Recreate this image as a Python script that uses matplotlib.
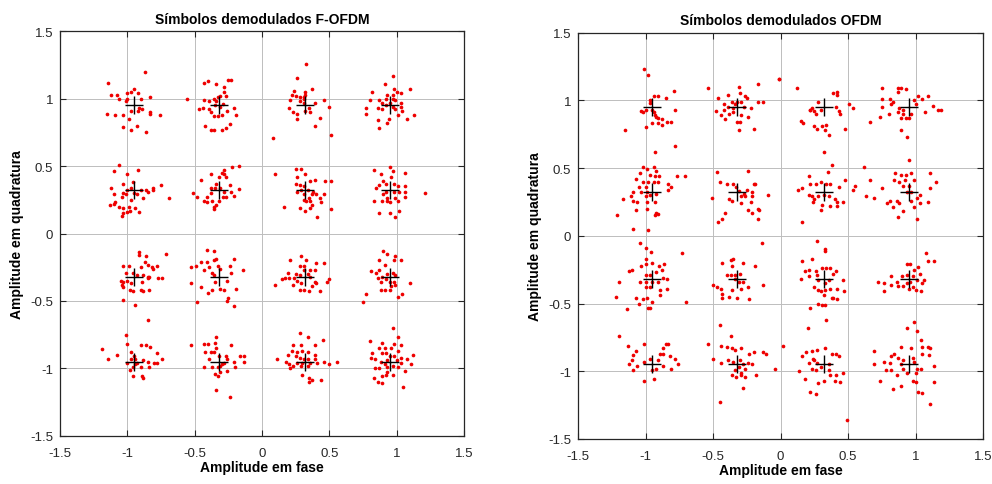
import numpy as np
import matplotlib
matplotlib.use("Agg")
import matplotlib.pyplot as plt

plt.rcParams['font.family'] = ['Liberation Sans', 'DejaVu Sans']

# --- ideal 16-QAM points (read from the + markers) ---
levels = [-0.95, -0.32, 0.32, 0.95]
# cluster order used by the offset lists below
cluster_i = [-0.95, -0.32, -0.95, -0.32, 0.32, 0.95, 0.32, 0.95,
             -0.95, -0.32, -0.95, -0.32, 0.32, 0.95, 0.32, 0.95]
cluster_q = [0.95, 0.95, 0.32, 0.32, 0.95, 0.95, 0.32, 0.32,
             -0.32, -0.32, -0.95, -0.95, -0.32, -0.32, -0.95, -0.95]

# --- received symbols, offsets from the ideal point (in 1/100) ---
fofdm_offsets = [
    [(8, 25), (-19, 17), (-17, 8), (-13, 8), (-11, 5), (-5, 5), (-5, 9), (-2, 10), (0, 12), (3, 9),
     (-6, 3), (5, 5), (12, 6), (-20, -6), (-14, -7), (-8, -7), (-4, -10), (-2, -4), (3, -4), (4, -2),
     (6, -3), (12, -5), (12, -6), (19, -7), (2, -15), (-8, -16), (-2, -18), (9, -20)],
    [(-24, 5), (-11, 17), (-8, 18), (-2, 16), (4, 14), (7, 19), (9, 19), (4, 10), (5, 7), (1, 7),
     (-1, 6), (-4, 5), (-2, 3), (-7, 3), (-11, 4), (-15, -3), (-12, -2), (-7, -3), (-6, -5), (-4, -8),
     (-1, -8), (2, -7), (6, -4), (11, -2), (13, -7), (-10, -15), (-6, -18), (-4, -18), (2, -18), (5, -17),
     (8, -14), (1, -1), (3, 1), (-3, 0)],
    [(-11, 19), (-15, 14), (-5, 12), (3, 15), (-8, 5), (-1, 6), (-2, 2), (-5, 0), (-8, -2), (5, 0),
     (9, 0), (10, -1), (14, 2), (14, 0), (20, 4), (7, -6), (26, -6), (-17, 2), (-15, -3), (-9, -5),
     (-6, -3), (0, -2), (2, -3), (-14, -9), (-18, -11), (-15, -10), (-11, -12), (-8, -13), (-4, -12), (-3, -15),
     (1, -13), (4, -16), (-5, -16), (-8, -17), (-9, -19), (-2, -7)],
    [(-19, -2), (-13, 8), (-6, 12), (0, 10), (2, 13), (4, 15), (4, 12), (10, 17), (15, 18), (5, 10),
     (-2, 5), (-3, 2), (-6, -2), (-9, -5), (-16, -5), (-11, -8), (-9, -9), (-5, -8), (-4, -12), (-4, -14),
     (-2, -11), (0, -8), (3, -5), (5, -5), (9, -1), (11, -4), (15, 1), (1, 2), (4, -1), (8, 4), (-6, 2)],
    [(1, 31), (-6, 20), (5, 12), (0, 10), (-8, 11), (-10, 8), (-7, 7), (-4, 6), (-1, 6), (0, 8),
     (-11, 4), (-4, 3), (-1, 2), (7, 2), (14, 4), (-12, -2), (-9, -5), (-6, -6), (-6, -10), (0, -4),
     (3, -2), (4, -5), (18, -1), (11, -9), (7, -15), (-24, -24), (19, -22), (-1, 5)],
    [(2, 22), (-4, 16), (15, 12), (-13, 10), (3, 12), (5, 10), (2, 8), (-2, 8), (8, 9), (-3, 5),
     (2, 5), (4, 4), (-15, 4), (-8, 4), (-6, 2), (0, 2), (8, 2), (8, -1), (-18, -2), (-18, -6),
     (-9, -2), (-6, -3), (-3, 0), (2, -1), (4, -3), (9, -4), (18, -7), (13, -10), (-1, -10), (-9, -11),
     (-2, -13), (-8, -17), (6, -7)],
    [(-22, 12), (-7, 16), (-3, 16), (0, 12), (-6, 10), (4, 7), (7, 8), (15, 7), (19, 7), (-7, 5),
     (-4, 4), (-1, 3), (-6, -1), (-3, 0), (2, 0), (6, -1), (8, -3), (5, -3), (3, -6), (-1, -7),
     (1, -8), (4, -8), (11, -6), (12, -9), (14, -3), (5, -11), (4, -13), (-4, -13), (0, -15), (9, -20),
     (19, -14), (-16, -12), (-1, -3)],
    [(0, 17), (-12, 15), (2, 14), (11, 13), (-7, 12), (1, 10), (-5, 7), (-8, 4), (-10, 2), (-3, 5),
     (3, 5), (6, 3), (11, 3), (11, -1), (7, -1), (3, -1), (-3, -1), (-5, -3), (-2, -6), (-2, -8),
     (0, -9), (-6, -8), (-12, -8), (4, -6), (6, -8), (11, -5), (26, -2), (7, -15), (0, -17), (-8, -17),
     (4, -20)],
    [(4, 18), (4, 16), (24, 17), (9, 15), (8, 11), (10, 9), (-8, 8), (-4, 8), (5, 7), (13, 7),
     (14, 6), (17, 8), (-6, 3), (-1, 3), (2, 1), (7, 1), (10, 0), (11, 0), (18, -1), (21, -1),
     (-10, -3), (-8, -4), (-5, -3), (-9, -6), (-8, -8), (-2, -5), (6, -4), (10, -1), (-3, -10), (-1, -11),
     (5, -10), (7, -11), (11, -10), (-8, -17), (1, -21), (10, -32)],
    [(-9, 20), (-4, 19), (-13, 11), (-9, 11), (-4, 12), (-2, 13), (-17, 8), (-11, 5), (-7, 7), (-1, 8),
     (1, 6), (8, 8), (11, 13), (18, 5), (-21, 7), (-5, 3), (-4, 1), (9, 3), (6, -3), (-21, -5),
     (-13, -8), (-8, -12), (-5, -10), (1, -9), (4, -10), (13, -9), (-16, -19), (6, -18), (7, -16), (11, -22),
     (-3, -4)],
    [(-6, 20), (-5, 13), (-24, 9), (-13, 5), (-19, 2), (-2, 7), (0, 4), (5, 12), (9, 12), (12, 11),
     (17, 6), (21, 2), (-2, 2), (1, 2), (7, 1), (10, 0), (15, -1), (17, -1), (-5, -1), (-3, -6),
     (-1, -4), (1, -2), (5, -4), (11, -4), (-1, -11), (6, -11), (7, -12), (2, -1)],
    [(-21, 12), (-2, 18), (-11, 13), (-8, 13), (-3, 14), (-2, 10), (-10, 7), (-6, 7), (-4, 7), (9, 12),
     (16, 4), (19, 4), (19, 0), (0, 4), (5, 4), (6, 2), (11, 0), (-11, -4), (-5, -4), (-1, -4),
     (1, -3), (4, -1), (6, -7), (12, -4), (-3, -9), (-1, -11), (1, -8), (-2, -21), (8, -26), (2, -2),
     (-7, 2)],
    [(-3, 15), (-11, 12), (1, 12), (-4, 8), (-1, 8), (8, 10), (14, 10), (-1, 5), (4, 5), (7, 5),
     (-13, 3), (-7, 2), (-4, 1), (2, 2), (4, 0), (-15, -1), (-17, -2), (-12, -1), (-8, -1), (-6, -3),
     (-3, -5), (7, -4), (8, -5), (-22, -6), (-9, -6), (-4, -10), (-1, -10), (3, -11), (11, -11), (16, -4),
     (18, -2), (5, -7)],
    [(-5, 19), (-2, 17), (-8, 12), (-4, 9), (4, 15), (3, 12), (8, 12), (-14, 4), (-10, 3), (-9, -1),
     (-7, -4), (-6, 0), (2, 3), (4, 1), (-2, 2), (-3, -2), (0, -4), (3, -4), (4, -6), (1, -7),
     (-7, -10), (-4, -10), (0, -10), (15, -5), (6, -15), (9, -13), (-18, -13), (-20, -19), (-8, 5)],
    [(-4, 21), (2, 18), (13, 16), (-9, 12), (-3, 12), (7, 12), (-10, 8), (-6, 7), (-2, 8), (2, 7),
     (7, 5), (-13, 5), (-21, 2), (-7, 4), (-4, 3), (-1, 2), (2, 2), (7, 2), (14, 0), (18, -2),
     (24, 0), (-14, 0), (-12, -2), (-9, -3), (-6, -1), (-2, -1), (4, -1), (9, -1), (-3, -3), (-2, -10),
     (3, -12), (5, -14), (3, -15), (12, -14), (-11, -5), (2, -3)],
    [(2, 25), (6, 18), (-15, 15), (-6, 14), (3, 13), (8, 12), (-8, 10), (-4, 10), (1, 10), (6, 8),
     (-13, 6), (-6, 6), (-3, 6), (0, 4), (3, 4), (8, 3), (13, 2), (17, 5), (-14, 3), (-11, 2),
     (-7, 0), (-2, 1), (5, 1), (8, -1), (16, -2), (-11, -5), (-8, -5), (-4, -2), (-2, -4), (2, -3),
     (6, -4), (11, -7), (-6, -11), (-3, -10), (-2, -8), (-9, -15), (-6, -16), (2, -10), (10, -19), (-12, -12)],
]

ofdm_offsets = [
    [(-6, 28), (-3, 24), (16, 12), (1, 8), (4, 8), (10, 7), (-2, 5), (-8, -3), (-7, -4), (-5, -2),
     (0, -2), (1, -4), (3, -7), (4, -8), (7, -9), (11, -11), (14, -11), (4, -12), (0, -12), (7, -13),
     (-5, -15), (-20, -17), (17, -2), (17, -29), (2, -6), (-2, 3)],
    [(-22, 14), (1, 15), (15, 17), (-7, 9), (-14, 7), (2, 10), (6, 8), (7, 7), (3, 4), (0, 4),
     (-4, 4), (-10, 2), (-7, 0), (-3, -1), (5, 0), (10, -1), (15, 4), (19, 4), (-16, -3), (-10, -2),
     (-12, -6), (-6, -5), (-3, -4), (3, -6), (8, -7), (0, -11), (2, -11), (-9, -9), (12, -16), (1, -17),
     (31, 21), (-2, 2)],
    [(2, 30), (-7, 19), (1, 19), (-4, 17), (3, 16), (-9, 14), (-2, 13), (2, 12), (5, 12), (18, 12),
     (24, 12), (-12, 10), (-7, 8), (-3, 8), (1, 8), (4, 8), (-10, 4), (-5, 4), (12, 6), (14, 4),
     (12, 2), (-14, 0), (-8, 0), (-4, 0), (3, -1), (-16, -3), (-5, -3), (-2, -2), (-22, -5), (-14, -6),
     (-11, -7), (-4, -7), (2, -7), (-4, -12), (3, -15), (4, -16), (2, -17), (-12, -13), (-26, -17), (-14, -27),
     (-3, -28)],
    [(8, 16), (-15, 15), (-13, 8), (-8, 6), (-3, 6), (1, 1), (12, 6), (13, 6), (7, 2), (11, 0),
     (23, -2), (-19, -4), (-6, -5), (-4, -6), (3, -3), (6, -3), (11, -3), (10, -7), (15, -12), (16, -13),
     (3, -8), (8, -13), (11, -15), (-9, -15), (-11, -20), (-14, -22), (15, -20), (-1, 4), (5, -1)],
    [(-33, 21), (-20, 14), (7, 10), (10, 11), (10, 9), (-4, 4), (-9, -1), (-10, -2), (-7, -3), (-2, -2),
     (-6, -5), (9, 0), (11, -3), (12, -5), (19, 2), (22, -1), (-17, -10), (-15, -12), (-7, -14), (-5, -16),
     (-1, -14), (2, -13), (1, -17), (4, -21), (16, -16), (-10, -2)],
    [(-20, 14), (-8, 14), (-6, 14), (-2, 13), (-8, 11), (7, 8), (10, 6), (14, 8), (-20, 6), (-14, 6),
     (-12, 4), (-13, 2), (-20, 0), (-15, -5), (-21, -7), (-7, -1), (-4, -2), (-8, -4), (-4, -5), (-6, -8),
     (-2, -8), (0, -8), (2, -5), (5, 2), (18, 1), (12, -4), (22, -2), (24, -2), (-29, -11), (-6, -17),
     (-1, -22), (4, 5)],
    [(0, 30), (6, 20), (30, 19), (3, 15), (-11, 12), (-2, 8), (16, 9), (-10, 6), (-6, 6), (2, 6),
     (5, 6), (-16, 3), (-19, 2), (-11, -2), (-9, -3), (-7, -5), (-4, -3), (0, -2), (4, -3), (8, -5),
     (11, 4), (23, 5), (22, 2), (10, -7), (14, -7), (-8, -7), (-1, -9), (5, -10), (10, -10), (-2, -13),
     (-16, -22)],
    [(0, 24), (-10, 14), (-6, 13), (-2, 13), (2, 14), (16, 14), (-11, 9), (-7, 8), (-3, 9), (-4, 5),
     (4, 9), (20, 8), (16, 3), (0, 5), (-1, 0), (2, 0), (8, -2), (6, -4), (8, -8), (14, -7),
     (-9, -6), (-14, -6), (-16, -8), (-12, -11), (-7, -8), (-4, -14), (-8, -18), (2, -6), (4, -11), (6, -20),
     (-20, 3), (-26, -4), (-29, 9), (-32, -3)],
    [(-9, 27), (-5, 23), (-1, 20), (22, 19), (-5, 15), (0, 12), (-8, 10), (-5, 11), (5, 10), (9, 11),
     (-17, 6), (-15, 7), (7, 7), (3, 5), (-5, 3), (-2, 3), (-9, -2), (-5, -2), (0, -2), (4, -2),
     (8, 1), (11, 0), (-25, -2), (-5, -6), (-2, -6), (6, -8), (6, -12), (11, -7), (-27, -13), (-12, -14),
     (-10, -18), (-7, -15), (-4, -14), (-3, -21), (-2, -21), (0, -17), (-19, -22), (25, -17)],
    [(18, 27), (-11, 12), (-5, 14), (-3, 15), (4, 12), (13, 10), (-4, 10), (-8, 3), (-5, 3), (-2, 3),
     (2, 4), (-18, -4), (-15, -6), (-12, -7), (-11, -11), (-11, -14), (-6, -13), (0, -14), (-4, -8), (3, -7),
     (4, -2), (8, -6), (9, -15), (19, -4), (-13, -34), (-5, -42), (-2, 0), (1, -2)],
    [(-25, 21), (-18, 14), (-6, 15), (-12, 10), (-14, 7), (-15, 3), (-17, 0), (-14, -4), (-11, -1), (-6, 2),
     (-2, 4), (4, 3), (8, 8), (10, 15), (12, 15), (8, 12), (6, 8), (13, 6), (17, 4), (19, 0),
     (14, -3), (8, -1), (3, -3), (0, -4), (1, -11), (-6, -12)],
    [(-22, 15), (-12, 14), (-8, 13), (-4, 12), (-2, 11), (3, 12), (9, 8), (12, 9), (19, 9), (21, 8),
     (-18, 4), (-12, 1), (-7, 3), (-3, 2), (2, 3), (4, 0), (8, 1), (11, 0), (14, -8), (28, -3),
     (-4, -8), (-1, -9), (3, -8), (6, -9), (3, -6), (-2, -4), (4, -17), (-13, -28), (1, -2), (6, -3)],
    [(-5, 28), (1, 22), (1, 21), (-16, 13), (-9, 15), (-14, 6), (-11, 7), (-6, 6), (-1, 8), (2, 8),
     (5, 8), (9, 6), (7, 4), (-17, 0), (-11, 2), (-5, 3), (-4, -1), (1, -3), (4, -1), (14, -1),
     (-7, -6), (-4, -8), (-2, -9), (1, -8), (5, -7), (10, -7), (15, -9), (0, -12), (6, -14), (7, -14),
     (-4, -18), (-1, -19), (1, -19), (-10, -21), (2, -30), (-12, -36), (10, -15)],
    [(13, 19), (14, 13), (19, 13), (-1, 11), (1, 11), (7, 9), (4, 7), (8, 4), (-5, 2), (-1, 3),
     (3, 2), (6, -1), (11, -1), (-13, 2), (-23, -2), (-18, -3), (-13, -4), (-9, -2), (-8, -5), (-4, -5),
     (-1, -3), (3, -6), (5, -8), (9, -9), (0, -7), (-18, -9), (10, -3), (1, -2)],
    [(-30, 14), (1, 12), (-16, 6), (-13, 9), (-9, 10), (-5, 11), (6, 8), (9, 8), (11, 6), (-8, 4),
     (-7, 3), (-5, 1), (-2, -2), (-6, -4), (-11, 1), (-18, -5), (-14, -11), (-9, -3), (4, 0), (5, -8),
     (9, -8), (12, -13), (8, -12), (0, -12), (-4, -14), (-10, -20), (-6, -22), (14, -6), (17, -41), (4, -4)],
    [(4, 31), (-1, 27), (6, 25), (9, 18), (10, 13), (14, 13), (16, 12), (2, 12), (-6, 13), (-11, 8),
     (-13, 6), (-26, 10), (-18, 2), (-26, 0), (-14, 1), (-8, 5), (-4, 3), (3, 5), (4, 2), (6, -3),
     (9, -3), (5, -6), (10, 8), (15, 7), (19, -1), (19, -13), (-21, -12), (-17, -4), (-13, -4), (-12, -18),
     (-9, -8), (-6, -16), (-4, -3), (-1, -6), (3, -12), (5, -13), (7, -20), (10, -21), (16, -29), (-6, 0)],
]

titles = ["Símbolos demodulados F-OFDM", "Símbolos demodulados OFDM"]
ticks = [-1.5, -1, -0.5, 0, 0.5, 1, 1.5]
tick_labels = ["-1.5", "-1", "-0.5", "0", "0.5", "1", "1.5"]


def to_points(offsets):
    xs, ys = [], []
    for ci, cq, pts in zip(cluster_i, cluster_q, offsets):
        for dx, dy in pts:
            xs.append(ci + dx / 100)
            ys.append(cq + dy / 100)
    return np.array(xs), np.array(ys)


fig = plt.figure(figsize=(9.92, 4.85), dpi=100)
ax_left = fig.add_axes([60 / 992, 1 - 436.7 / 485, 404 / 992, 404.4 / 485])
ax_right = fig.add_axes([578 / 992, 1 - 440 / 485, 405 / 992, 406.5 / 485])

gi, gq = np.meshgrid(levels, levels)

for ax, offs, title in zip([ax_left, ax_right], [fofdm_offsets, ofdm_offsets], titles):
    x, y = to_points(offs)
    ax.scatter(x, y, s=7, color='#ee0000', linewidths=0, zorder=3)
    ax.plot(gi.ravel(), gq.ravel(), '+', color='black', markersize=13,
            markeredgewidth=1.0, zorder=4)
    ax.set_xlim(-1.5, 1.5)
    ax.set_ylim(-1.5, 1.5)
    ax.set_xticks(ticks)
    ax.set_yticks(ticks)
    ax.set_xticklabels(tick_labels)
    ax.set_yticklabels(tick_labels)
    ax.grid(True, color='#bdbdbd', linewidth=0.7)
    ax.set_axisbelow(True)
    ax.tick_params(direction='in', length=4, width=0.8, top=True, right=True,
                   labelsize=9.5, colors='#262626', labelcolor='#262626')
    ax.tick_params(axis='x', pad=8)
    ax.tick_params(axis='y', pad=5)
    for sp in ax.spines.values():
        sp.set_linewidth(0.9)
        sp.set_color('#262626')
    ax.set_title(title, fontsize=10, fontweight='bold', pad=6)
    ax.set_xlabel("Amplitude em fase", fontsize=10, fontweight='bold', labelpad=1)
    ax.set_ylabel("Amplitude em quadratura", fontsize=10, fontweight='bold', labelpad=4)

fig.savefig("out.png", dpi=100)
